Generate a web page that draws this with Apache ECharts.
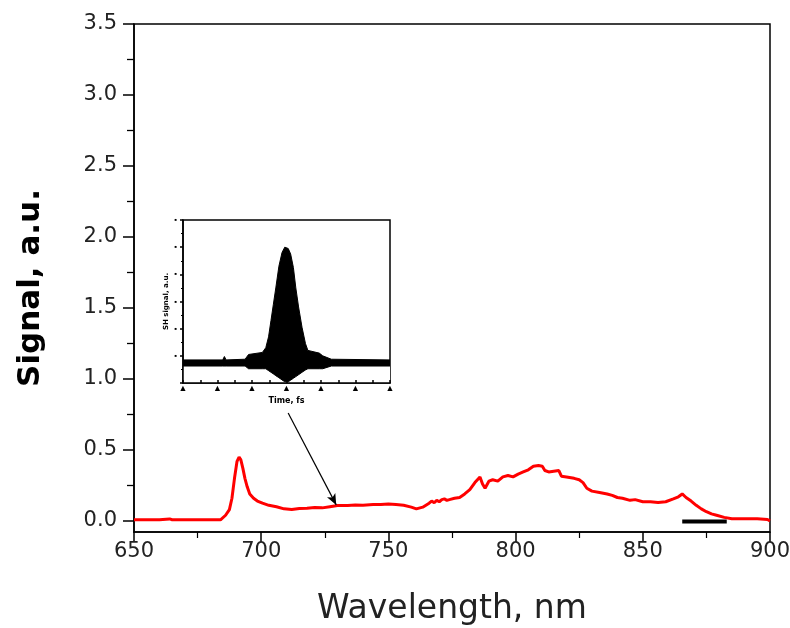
<!DOCTYPE html>
<html>
<head>
<meta charset="utf-8">
<script src="https://cdn.jsdelivr.net/npm/echarts@6/dist/echarts.min.js"></script>
<style>html,body{margin:0;padding:0;background:#fff}#chart{width:790px;height:628px}</style>
</head>
<body>
<div id="chart"></div>
<script>
// Main spectrum (wavelength in nm, signal in a.u.)
const wavelength = [650,660,664,665,684,686,687.5,688.5,689.5,690.5,691.3,692,692.8,693.6,694.5,695.5,697,698.5,700.5,703,706,709,712,715,718,721,724,727,730,734,737,740,744,747,750,753,756,759,761,763.5,766,767,768,769,770,771,772,773,774,776,778,780,782,784,786,787,788,789.5,791,793,795,797,799,801,803,805,807,809,810.5,811.5,813,815,817,818,820,823,825,826.5,828,830,833,836,838,840,842,845,847,850,853,856,859,862,864,865.5,867,869,871,873,875,877,879,882,885,890,895,899,900];
const signal = [0.008,0.008,0.014,0.008,0.008,0.04,0.08,0.16,0.30,0.42,0.45,0.43,0.37,0.30,0.24,0.19,0.16,0.14,0.125,0.11,0.10,0.085,0.08,0.088,0.09,0.095,0.092,0.10,0.108,0.108,0.112,0.11,0.115,0.115,0.12,0.115,0.11,0.097,0.085,0.097,0.125,0.14,0.128,0.145,0.135,0.15,0.155,0.145,0.15,0.16,0.165,0.19,0.22,0.27,0.31,0.26,0.23,0.28,0.29,0.28,0.31,0.32,0.31,0.33,0.345,0.36,0.385,0.39,0.385,0.355,0.345,0.35,0.355,0.315,0.31,0.30,0.29,0.27,0.23,0.21,0.20,0.19,0.18,0.165,0.16,0.145,0.15,0.135,0.135,0.13,0.135,0.155,0.17,0.19,0.165,0.14,0.11,0.085,0.065,0.05,0.04,0.025,0.015,0.015,0.015,0.01,0.0];
// Black baseline segment near the bottom right
const baseWavelength = [865.5, 883];
const baseSignal = [-0.004, -0.004];
// Arrow from inset to the curve (data coordinates)
const arrowStart = [710.6, 0.76];
const arrowEnd = [729.5, 0.113];
// Tick values
const yTicksMain = [0,0.5,1.0,1.5,2.0,2.5,3.0,3.5];
const yMinorTicksMain = [0.25,0.75,1.25,1.75,2.25,2.75,3.25];
// Inset: autocorrelation envelope
const insetTime = [-3,-1.85,-1.8,-1.75,-1.2,-1.1,-0.7,-0.6,-0.52,-0.45,-0.38,-0.31,-0.22,-0.13,-0.05,0,0.05,0.12,0.2,0.27,0.35,0.45,0.55,0.62,0.95,1.05,1.3,3];
const insetUpper = [1.7,1.7,1.95,1.7,1.75,2.1,2.25,2.6,3.4,4.6,5.8,7.0,8.6,9.6,10.0,10.0,9.9,9.5,8.5,7.0,5.6,4.1,2.9,2.4,2.2,2.0,1.75,1.7];
const insetLower = [1.25,1.25,1.25,1.25,1.25,1.05,1.05,1.05,0.91,0.79,0.67,0.54,0.39,0.23,0.09,0,0.09,0.21,0.35,0.47,0.61,0.79,0.96,1.05,1.05,1.05,1.25,1.25];

const FONT = 'DejaVu Sans';
const mainData = wavelength.map((w, i) => [w, signal[i]]);
const baseData = baseWavelength.map((w, i) => [w, baseSignal[i]]);
const upperData = insetTime.map((t, i) => [t, insetUpper[i]]);
const lowerData = insetTime.map((t, i) => [t, insetLower[i]]);
const yMin = -0.078;

const chart = echarts.init(document.getElementById('chart'), null, {renderer: 'canvas'});
chart.setOption({
  animation: false,
  backgroundColor: '#fff',
  grid: [
    {left: 134, top: 24, right: 20, bottom: 96, outerBoundsMode: 'none', containLabel: false, show: true, borderColor: '#000', borderWidth: 1.5, backgroundColor: 'transparent'},
    {left: 183, top: 220, right: 400, bottom: 245, outerBoundsMode: 'none', containLabel: false, show: true, borderColor: '#000', borderWidth: 1.5, backgroundColor: '#fff'}
  ],
  xAxis: [
    {
      gridIndex: 0, type: 'value', min: 650, max: 900, interval: 50,
      axisLine: {onZero: false, lineStyle: {color: '#000', width: 1.5}},
      axisTick: {inside: false, length: 10, lineStyle: {color: '#000', width: 1.5}},
      minorTick: {show: true, splitNumber: 2, length: 6, lineStyle: {color: '#000', width: 1.2}},
      splitLine: {show: false},
      axisLabel: {fontFamily: FONT, fontSize: 21, color: '#222', margin: 9},
      name: 'Wavelength, nm', nameLocation: 'middle', nameGap: 61,
      nameTextStyle: {fontFamily: FONT, fontSize: 33, color: '#222'}
    },
    {
      gridIndex: 1, type: 'value', min: -3, max: 3, interval: 1, z: 10,
      axisLine: {onZero: false, lineStyle: {color: '#000', width: 1.5}},
      axisTick: {show: true, inside: true, length: 3, lineStyle: {color: '#000', width: 1.5}},
      minorTick: {show: true, splitNumber: 2, length: 3, lineStyle: {color: '#000', width: 1.5}},
      splitLine: {show: false},
      axisLabel: {formatter: () => '▲', fontSize: 9, color: '#000', margin: 1},
      name: 'Time, fs', nameLocation: 'middle', nameGap: 14,
      nameTextStyle: {fontFamily: FONT, fontSize: 8, fontWeight: 'bold', color: '#000'}
    }
  ],
  yAxis: [
    {
      gridIndex: 0, type: 'value', min: yMin, max: 3.5, position: 'left',
      axisLine: {onZero: false, lineStyle: {color: '#000', width: 1.5}},
      axisTick: {customValues: yTicksMain, length: 11, lineStyle: {color: '#000', width: 1.5}},
      axisLabel: {customValues: yTicksMain, formatter: v => v.toFixed(1), fontFamily: FONT, fontSize: 21, color: '#222', margin: 17},
      splitLine: {show: false},
      name: 'Signal, a.u.', nameLocation: 'middle', nameGap: 88,
      nameTextStyle: {fontFamily: FONT, fontSize: 31, fontWeight: 'bold', color: '#000', padding: [0, 20, 0, 0]}
    },
    {
      gridIndex: 0, type: 'value', min: yMin, max: 3.5, position: 'left',
      axisLine: {show: false, onZero: false},
      axisTick: {customValues: yMinorTicksMain, length: 7, lineStyle: {color: '#000', width: 1.3}},
      axisLabel: {show: false},
      splitLine: {show: false}
    },
    {
      gridIndex: 1, type: 'value', min: 0, max: 12, interval: 2, position: 'left', z: 10,
      axisLine: {onZero: false, lineStyle: {color: '#000', width: 1.5}},
      axisTick: {length: 3, lineStyle: {color: '#000', width: 1.5}},
      minorTick: {show: true, splitNumber: 2, length: 2, lineStyle: {color: '#000', width: 1.2}},
      splitLine: {show: false},
      axisLabel: {formatter: v => (v === 0 ? '' : '■'), fontSize: 4, color: '#000', margin: 6},
      name: 'SH signal, a.u.', nameLocation: 'middle', nameGap: 13,
      nameTextStyle: {fontFamily: FONT, fontSize: 7, fontWeight: 'bold', color: '#000'}
    }
  ],
  series: [
    {
      type: 'line', xAxisIndex: 0, yAxisIndex: 0, data: mainData, symbol: 'none',
      lineStyle: {color: '#ff0000', width: 3}, z: 3,
      markLine: {
        silent: true, symbol: ['none', 'arrow'], symbolSize: [7, 11],
        lineStyle: {color: '#000', width: 1.2, type: 'solid'},
        label: {show: false},
        data: [[{coord: arrowStart}, {coord: arrowEnd}]]
      }
    },
    {
      type: 'line', xAxisIndex: 0, yAxisIndex: 0, data: baseData, symbol: 'none',
      lineStyle: {color: '#000', width: 4}, z: 2
    },
    {
      type: 'line', xAxisIndex: 1, yAxisIndex: 2, data: upperData, symbol: 'none',
      lineStyle: {color: '#000', width: 1}, areaStyle: {color: '#000', opacity: 1, origin: 'start'}, z: 5
    },
    {
      type: 'line', xAxisIndex: 1, yAxisIndex: 2, data: lowerData, symbol: 'none',
      lineStyle: {color: '#000', width: 1}, areaStyle: {color: '#fff', opacity: 1, origin: 'start'}, z: 6
    }
  ]
});
</script>
</body>
</html>
